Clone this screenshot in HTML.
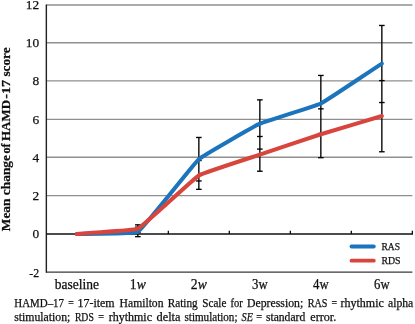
<!DOCTYPE html>
<html><head><meta charset="utf-8"><title>chart</title>
<style>
html,body{margin:0;padding:0;background:#fff;}
body{width:415px;height:324px;overflow:hidden;font-family:"Liberation Serif",serif;}
svg{display:block;}
text{font-family:"Liberation Serif",serif;fill:#111;stroke:#111;stroke-width:0.25px;}
</style></head><body>
<svg width="415" height="324" viewBox="0 0 415 324">
<defs><filter id="soft" x="0" y="0" width="415" height="324" filterUnits="userSpaceOnUse"><feGaussianBlur stdDeviation="0.35"/></filter></defs>
<rect width="415" height="324" fill="#fff"/>
<g filter="url(#soft)">
<line x1="46.35" y1="5.00" x2="412.4" y2="5.00" stroke="#8f8f8f" stroke-width="1.35"/>
<line x1="46.35" y1="42.70" x2="412.4" y2="42.70" stroke="#8f8f8f" stroke-width="1.35"/>
<line x1="46.35" y1="80.90" x2="412.4" y2="80.90" stroke="#8f8f8f" stroke-width="1.35"/>
<line x1="46.35" y1="119.30" x2="412.4" y2="119.30" stroke="#8f8f8f" stroke-width="1.35"/>
<line x1="46.35" y1="157.25" x2="412.4" y2="157.25" stroke="#8f8f8f" stroke-width="1.35"/>
<line x1="46.35" y1="195.60" x2="412.4" y2="195.60" stroke="#8f8f8f" stroke-width="1.35"/>
<line x1="46.35" y1="272.10" x2="412.4" y2="272.10" stroke="#3a3a3a" stroke-width="1.3"/>
<line x1="46.35" y1="4.40" x2="46.35" y2="272.70" stroke="#222" stroke-width="1.4"/>
<line x1="46.35" y1="234.05" x2="413.0" y2="234.05" stroke="#111" stroke-width="1.45"/>
<line x1="107.35" y1="234.05" x2="107.35" y2="230.65" stroke="#111" stroke-width="1.3"/>
<line x1="168.35" y1="234.05" x2="168.35" y2="230.65" stroke="#111" stroke-width="1.3"/>
<line x1="229.35" y1="234.05" x2="229.35" y2="230.65" stroke="#111" stroke-width="1.3"/>
<line x1="290.35" y1="234.05" x2="290.35" y2="230.65" stroke="#111" stroke-width="1.3"/>
<line x1="351.35" y1="234.05" x2="351.35" y2="230.65" stroke="#111" stroke-width="1.3"/>
<line x1="412.35" y1="234.05" x2="412.35" y2="230.65" stroke="#111" stroke-width="1.3"/>
<text x="39.2" y="9.25" font-size="13.4" text-anchor="end">12</text>
<text x="39.2" y="46.95" font-size="13.4" text-anchor="end">10</text>
<text x="39.2" y="85.15" font-size="13.4" text-anchor="end">8</text>
<text x="39.2" y="123.55" font-size="13.4" text-anchor="end">6</text>
<text x="39.2" y="161.50" font-size="13.4" text-anchor="end">4</text>
<text x="39.2" y="199.85" font-size="13.4" text-anchor="end">2</text>
<text x="39.2" y="238.30" font-size="13.4" text-anchor="end">0</text>
<text x="39.2" y="276.85" font-size="13.4" text-anchor="end" textLength="9.9" lengthAdjust="spacingAndGlyphs">-2</text>
<text x="54.75" y="289.25" font-size="13.8" textLength="44.2" lengthAdjust="spacingAndGlyphs">baseline</text>
<text x="129.85" y="289.25" font-size="13.8" textLength="16.0" lengthAdjust="spacingAndGlyphs">1<tspan font-style="italic">w</tspan></text>
<text x="190.85" y="289.25" font-size="13.8" textLength="16.0" lengthAdjust="spacingAndGlyphs">2<tspan font-style="italic">w</tspan></text>
<text x="252.05" y="289.25" font-size="13.8" textLength="15.6" lengthAdjust="spacingAndGlyphs">3w</text>
<text x="313.05" y="289.25" font-size="13.8" textLength="15.6" lengthAdjust="spacingAndGlyphs">4w</text>
<text x="374.05" y="289.25" font-size="13.8" textLength="15.6" lengthAdjust="spacingAndGlyphs">6w</text>
<line x1="137.85" y1="224.84" x2="137.85" y2="236.67" stroke="#050505" stroke-width="1.35"/>
<line x1="135.05" y1="224.84" x2="140.65" y2="224.84" stroke="#050505" stroke-width="1.35"/>
<line x1="135.05" y1="227.13" x2="140.65" y2="227.13" stroke="#050505" stroke-width="1.35"/>
<line x1="135.05" y1="232.47" x2="140.65" y2="232.47" stroke="#050505" stroke-width="1.35"/>
<line x1="135.05" y1="236.67" x2="140.65" y2="236.67" stroke="#050505" stroke-width="1.35"/>
<line x1="198.85" y1="137.46" x2="198.85" y2="189.35" stroke="#050505" stroke-width="1.35"/>
<line x1="196.05" y1="137.46" x2="201.65" y2="137.46" stroke="#050505" stroke-width="1.35"/>
<line x1="196.05" y1="160.54" x2="201.65" y2="160.54" stroke="#050505" stroke-width="1.35"/>
<line x1="196.05" y1="180.96" x2="201.65" y2="180.96" stroke="#050505" stroke-width="1.35"/>
<line x1="196.05" y1="189.35" x2="201.65" y2="189.35" stroke="#050505" stroke-width="1.35"/>
<line x1="259.85" y1="99.87" x2="259.85" y2="171.23" stroke="#050505" stroke-width="1.35"/>
<line x1="257.05" y1="99.87" x2="262.65" y2="99.87" stroke="#050505" stroke-width="1.35"/>
<line x1="257.05" y1="136.50" x2="262.65" y2="136.50" stroke="#050505" stroke-width="1.35"/>
<line x1="257.05" y1="149.09" x2="262.65" y2="149.09" stroke="#050505" stroke-width="1.35"/>
<line x1="257.05" y1="171.23" x2="262.65" y2="171.23" stroke="#050505" stroke-width="1.35"/>
<line x1="320.85" y1="75.45" x2="320.85" y2="157.68" stroke="#050505" stroke-width="1.35"/>
<line x1="318.05" y1="75.45" x2="323.65" y2="75.45" stroke="#050505" stroke-width="1.35"/>
<line x1="318.05" y1="108.84" x2="323.65" y2="108.84" stroke="#050505" stroke-width="1.35"/>
<line x1="318.05" y1="133.45" x2="323.65" y2="133.45" stroke="#050505" stroke-width="1.35"/>
<line x1="318.05" y1="157.68" x2="323.65" y2="157.68" stroke="#050505" stroke-width="1.35"/>
<line x1="381.85" y1="25.46" x2="381.85" y2="151.77" stroke="#050505" stroke-width="1.35"/>
<line x1="379.05" y1="25.46" x2="384.65" y2="25.46" stroke="#050505" stroke-width="1.35"/>
<line x1="379.05" y1="80.60" x2="384.65" y2="80.60" stroke="#050505" stroke-width="1.35"/>
<line x1="379.05" y1="102.54" x2="384.65" y2="102.54" stroke="#050505" stroke-width="1.35"/>
<line x1="379.05" y1="151.77" x2="384.65" y2="151.77" stroke="#050505" stroke-width="1.35"/>
<path d="M76.85,234.00 C97.18,233.24 134.03,234.05 137.85,231.71 C143.79,228.07 193.26,164.16 198.85,159.21 C203.02,155.52 254.74,126.05 259.85,123.72 C264.50,121.59 316.28,105.75 320.85,103.49 C326.04,100.94 361.52,76.91 381.85,63.62" fill="none" stroke="#1b75bc" stroke-width="4.1" stroke-linecap="round" stroke-linejoin="round"/>
<path d="M76.85,234.00 C97.18,232.22 133.65,230.68 137.85,228.66 C143.41,225.99 193.42,178.72 198.85,175.42 C203.18,172.80 254.97,156.28 259.85,154.63 C264.73,152.98 315.94,135.76 320.85,134.21 C325.70,132.68 361.52,122.13 381.85,116.09" fill="none" stroke="#d8443c" stroke-width="4.1" stroke-linecap="round" stroke-linejoin="round"/>
<line x1="351.5" y1="246.5" x2="373.8" y2="246.5" stroke="#1b75bc" stroke-width="3.8" stroke-linecap="round"/>
<line x1="351.5" y1="260.7" x2="373.8" y2="260.7" stroke="#d8443c" stroke-width="3.8" stroke-linecap="round"/>
<text x="381.4" y="250.3" font-size="10.6" textLength="18.6" lengthAdjust="spacingAndGlyphs" stroke-width="0.4">RAS</text>
<text x="381.4" y="264.4" font-size="10.6" textLength="19.1" lengthAdjust="spacingAndGlyphs" stroke-width="0.4">RDS</text>
<text transform="translate(10.0,231.2) rotate(-90)" font-size="13.2" font-weight="bold" textLength="76.2" lengthAdjust="spacingAndGlyphs" stroke="none">Mean change</text>
<text transform="translate(10.0,153.6) rotate(-90)" font-size="13.2" font-weight="bold" textLength="10.0" lengthAdjust="spacingAndGlyphs" stroke="none">of</text>
<text transform="translate(10.0,141.0) rotate(-90)" font-size="13.2" font-weight="bold" textLength="41.0" lengthAdjust="spacingAndGlyphs" stroke="none">HAMD</text>
<text transform="translate(10.0,98.8) rotate(-90)" font-size="13.2" font-weight="bold" textLength="18.8" lengthAdjust="spacingAndGlyphs" stroke="none">-17</text>
<text transform="translate(10.0,76.5) rotate(-90)" font-size="13.2" font-weight="bold" textLength="29.0" lengthAdjust="spacingAndGlyphs" stroke="none">score</text>
<text x="14.3" y="307.0" font-size="11.7" textLength="49.7" lengthAdjust="spacingAndGlyphs" stroke-width="0.36">HAMD–17</text>
<text x="68.2" y="307.0" font-size="11.7" textLength="5.5" lengthAdjust="spacingAndGlyphs" stroke-width="0.36">=</text>
<text x="77.5" y="307.0" font-size="11.7" textLength="37.1" lengthAdjust="spacingAndGlyphs" stroke-width="0.36">17-item</text>
<text x="119.6" y="307.0" font-size="11.7" textLength="43.9" lengthAdjust="spacingAndGlyphs" stroke-width="0.36">Hamilton</text>
<text x="167.7" y="307.0" font-size="11.7" textLength="30.0" lengthAdjust="spacingAndGlyphs" stroke-width="0.36">Rating</text>
<text x="202.3" y="307.0" font-size="11.7" textLength="24.1" lengthAdjust="spacingAndGlyphs" stroke-width="0.36">Scale</text>
<text x="230.5" y="307.0" font-size="11.7" textLength="12.3" lengthAdjust="spacingAndGlyphs" stroke-width="0.36">for</text>
<text x="247.0" y="307.0" font-size="11.7" textLength="56.2" lengthAdjust="spacingAndGlyphs" stroke-width="0.36">Depression;</text>
<text x="307.8" y="307.0" font-size="11.7" textLength="19.7" lengthAdjust="spacingAndGlyphs" stroke-width="0.36">RAS</text>
<text x="331.4" y="307.0" font-size="11.7" textLength="5.6" lengthAdjust="spacingAndGlyphs" stroke-width="0.36">=</text>
<text x="340.6" y="307.0" font-size="11.7" textLength="43.2" lengthAdjust="spacingAndGlyphs" stroke-width="0.36">rhythmic</text>
<text x="388.0" y="307.0" font-size="11.7" textLength="25.3" lengthAdjust="spacingAndGlyphs" stroke-width="0.36">alpha</text>
<text x="14.2" y="320.9" font-size="11.7" textLength="56.2" lengthAdjust="spacingAndGlyphs" stroke-width="0.36">stimulation;</text>
<text x="74.9" y="320.9" font-size="11.7" textLength="18.9" lengthAdjust="spacingAndGlyphs" stroke-width="0.36">RDS</text>
<text x="98.2" y="320.9" font-size="11.7" textLength="5.8" lengthAdjust="spacingAndGlyphs" stroke-width="0.36">=</text>
<text x="108.7" y="320.9" font-size="11.7" textLength="43.3" lengthAdjust="spacingAndGlyphs" stroke-width="0.36">rhythmic</text>
<text x="156.5" y="320.9" font-size="11.7" textLength="24.0" lengthAdjust="spacingAndGlyphs" stroke-width="0.36">delta</text>
<text x="184.5" y="320.9" font-size="11.7" textLength="53.0" lengthAdjust="spacingAndGlyphs" stroke-width="0.36">stimulation;</text>
<text x="241.6" y="320.9" font-size="11.7" textLength="11.3" lengthAdjust="spacingAndGlyphs" stroke-width="0.36" font-style="italic">SE</text>
<text x="256.3" y="320.9" font-size="11.7" textLength="5.9" lengthAdjust="spacingAndGlyphs" stroke-width="0.36">=</text>
<text x="265.9" y="320.9" font-size="11.7" textLength="39.3" lengthAdjust="spacingAndGlyphs" stroke-width="0.36">standard</text>
<text x="310.3" y="320.9" font-size="11.7" textLength="25.9" lengthAdjust="spacingAndGlyphs" stroke-width="0.36">error.</text>
</g>
</svg>
</body></html>
